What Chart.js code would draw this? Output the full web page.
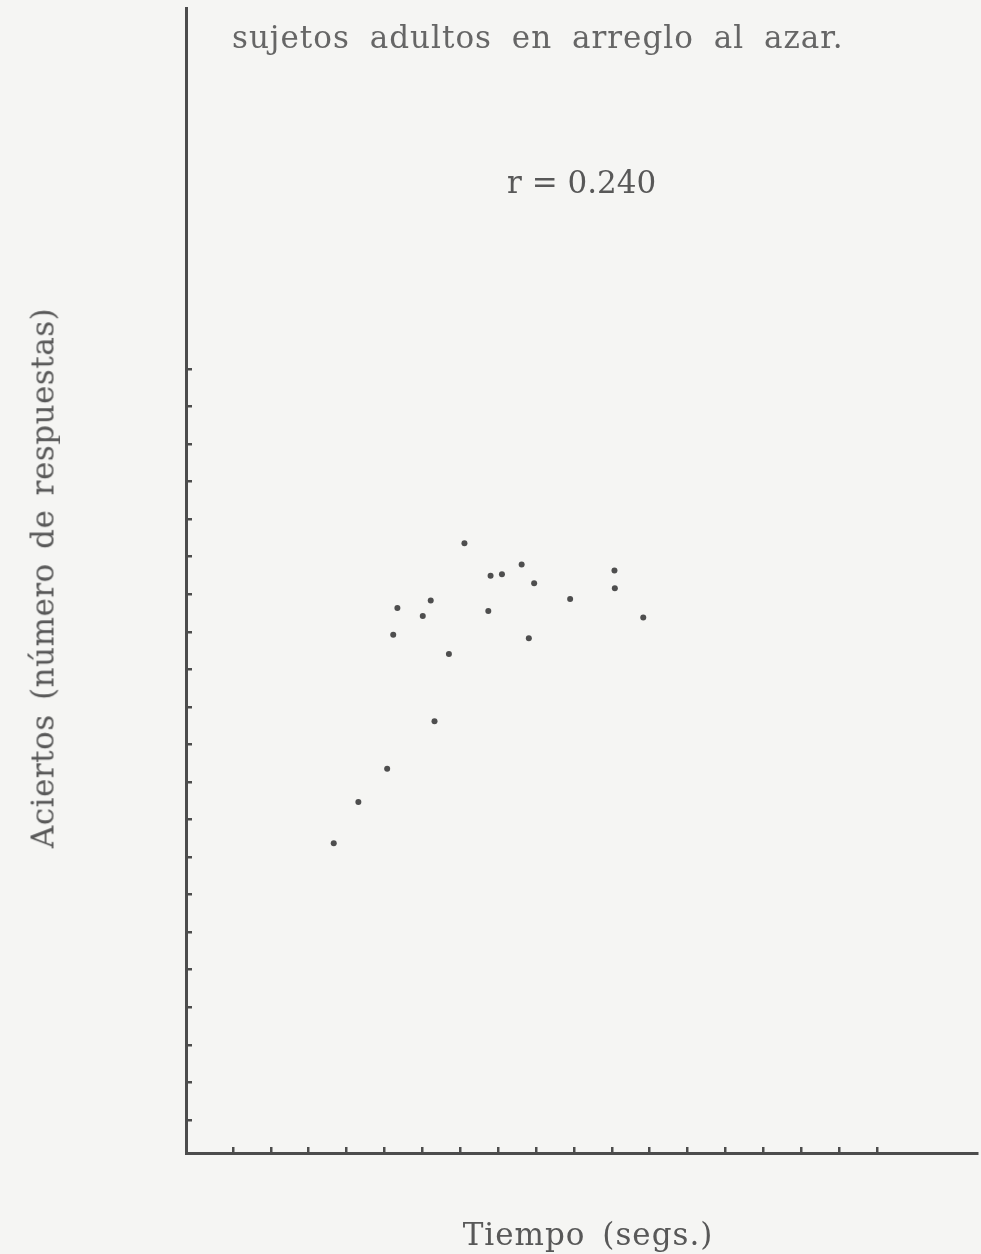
<!DOCTYPE html>
<html>
<head>
<meta charset="utf-8">
<script src="https://cdn.jsdelivr.net/npm/chart.js@4/dist/chart.umd.min.js"></script>
<style>
  body { margin: 0; background: #f5f5f3; }
  #wrap { position: relative; width: 981px; height: 1254px; overflow: hidden; }
  canvas { position: absolute; left: 0; top: 0; }
  .txt {
    position: absolute;
    font-family: "DejaVu Serif", serif;
    font-size: 31px;
    line-height: 31px;
    letter-spacing: 1px;
    white-space: nowrap;
    color: #585858;
  }
</style>
</head>
<body>
<div id="wrap">
  <canvas id="scatter" width="981" height="1254"></canvas>
  <div class="txt" id="note" style="left:232px; top:22px; word-spacing:9px; color:#666;">sujetos adultos en arreglo al azar.</div>
  <div class="txt" id="rval" style="left:507px; top:167px; letter-spacing:0;">r = 0.240</div>
  <div class="txt" id="xtitle" style="left:588px; top:1219px; transform:translateX(-50%); word-spacing:6px;">Tiempo (segs.)</div>
  <div class="txt" id="ytitle" style="left:43px; top:578px; transform:translate(-50%,-50%) rotate(-90deg); letter-spacing:0.5px; word-spacing:4px;">Aciertos (número de respuestas)</div>
</div>
<script>
// values, in tick units (no numbers printed on the axes)
const tiempo   = [7.11, 7.80, 8.10, 8.62, 8.95, 11.07, 11.08, 9.90, 11.83, 6.22,
                  5.34, 6.01, 7.74, 5.23, 8.81, 6.70, 6.32, 5.07, 4.31, 3.66];
const aciertos = [16.36, 15.49, 15.53, 15.79, 15.29, 15.63, 15.16, 14.87, 14.38, 14.83,
                  14.63, 14.42, 14.55, 13.92, 13.83, 13.41, 11.62, 10.35, 9.47, 8.37];

// tick marks present on each axis
const xTicks = [1, 2, 3, 4, 5, 6, 7, 8, 9, 10, 11, 12, 13, 14, 15, 16, 17, 18];
const yTicks = [1, 2, 3, 4, 5, 6, 7, 8, 9, 10, 11, 12, 13, 14, 15, 16, 17, 18, 19, 20, 21];

const ink = '#4c4c4c';

const points = tiempo.map((t, i) => ({ x: t, y: aciertos[i] }));

const axisStyle = {
  border: { display: true, color: ink, width: 3 },
  grid: { drawOnChartArea: false, drawTicks: true, tickLength: -6, lineWidth: 2.5, color: ink },
  ticks: { display: false }
};

new Chart(document.getElementById('scatter'), {
  type: 'scatter',
  data: {
    datasets: [{
      data: points,
      pointRadius: 3,
      pointBackgroundColor: '#4e4e4e',
      pointBorderWidth: 0
    }]
  },
  options: {
    responsive: false,
    devicePixelRatio: 1,
    animation: false,
    layout: { padding: { left: 0, top: 8, right: 0, bottom: 0 } },
    plugins: { legend: { display: false }, tooltip: { enabled: false } },
    scales: {
      x: {
        ...axisStyle,
        type: 'linear',
        min: -0.24,
        max: 20.64,
        afterBuildTicks: s => { s.ticks = xTicks.map(v => ({ value: v })); },
        afterFit: s => { s.height = 101; }
      },
      y: {
        ...axisStyle,
        type: 'linear',
        min: 0.12,
        max: 30.61,
        afterBuildTicks: s => { s.ticks = yTicks.map(v => ({ value: v })); },
        afterFit: s => { s.width = 186; }
      }
    }
  }
});
</script>
</body>
</html>
